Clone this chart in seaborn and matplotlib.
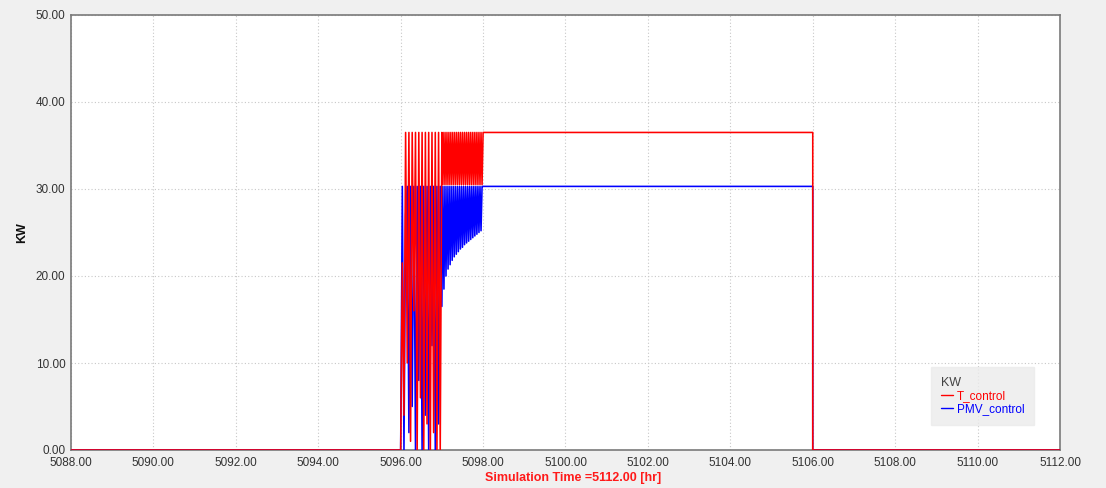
import matplotlib
matplotlib.use("Agg")
import matplotlib.pyplot as plt
from matplotlib.ticker import MultipleLocator, FormatStrFormatter
from matplotlib.lines import Line2D
import seaborn as sns
import pandas as pd

# ---- data -------------------------------------------------------------
# switching phase (first hour after start-up), shared time grid [hr]
t_switch = [5096.00, 5096.04, 5096.08, 5096.12, 5096.16, 5096.20, 5096.24,
            5096.28, 5096.32, 5096.36, 5096.40, 5096.44, 5096.48, 5096.52,
            5096.56, 5096.60, 5096.64, 5096.68, 5096.72, 5096.76, 5096.80,
            5096.84, 5096.88, 5096.92, 5096.96]
t_control_switch = [0.0, 21.5, 4.0, 36.5, 10.0, 36.5, 1.0, 36.5, 16.0, 36.5,
                    0.0, 36.5, 6.0, 36.5, 0.0, 36.5, 3.0, 36.5, 0.0, 36.5,
                    2.0, 36.5, 0.0, 36.5, 0.0]
pmv_control_switch = [0.0, 30.3, 0.0, 27.0, 30.3, 2.0, 30.3, 5.0, 30.3, 0.0,
                      30.3, 8.0, 30.3, 0.0, 30.3, 4.0, 30.3, 0.0, 30.3, 12.0,
                      30.3, 0.0, 30.3, 3.0, 30.3]

# modulating phase (second hour), shared time grid [hr]
t_modulate = [5097.000, 5097.025, 5097.050, 5097.075, 5097.100, 5097.125,
              5097.150, 5097.175, 5097.200, 5097.225, 5097.250, 5097.275,
              5097.300, 5097.325, 5097.350, 5097.375, 5097.400, 5097.425,
              5097.450, 5097.475, 5097.500, 5097.525, 5097.550, 5097.575,
              5097.600, 5097.625, 5097.650, 5097.675, 5097.700, 5097.725,
              5097.750, 5097.775, 5097.800, 5097.825, 5097.850, 5097.875,
              5097.900, 5097.925, 5097.950, 5097.975, 5098.000]
t_control_modulate = [36.5, 30.5, 36.5, 30.5, 36.5, 30.5, 36.5, 30.5, 36.5,
                      30.5, 36.5, 30.5, 36.5, 30.5, 36.5, 30.5, 36.5, 30.5,
                      36.5, 30.5, 36.5, 30.5, 36.5, 30.5, 36.5, 30.5, 36.5,
                      30.5, 36.5, 30.5, 36.5, 30.5, 36.5, 30.5, 36.5, 30.5,
                      36.5, 30.5, 36.5, 30.5, 36.5]
pmv_control_modulate = [16.5, 30.3, 18.5, 30.3, 20.0, 30.3, 20.8, 30.3, 21.3,
                        30.3, 21.8, 30.3, 22.2, 30.3, 22.5, 30.3, 22.8, 30.3,
                        23.1, 30.3, 23.3, 30.3, 23.6, 30.3, 23.8, 30.3, 24.0,
                        30.3, 24.2, 30.3, 24.4, 30.3, 24.6, 30.3, 24.8, 30.3,
                        25.0, 30.3, 25.2, 30.3, 30.3]

# steady operation and shutdown
t_tail = [5106.0, 5106.0, 5112.0]
t_control_tail = [36.5, 0.0, 0.0]
pmv_control_tail = [30.3, 0.0, 0.0]

t_start = [5088.0]
start_value = [0.0]

series_names = ["T_control", "PMV_control"]
series_colors = ["#ff0000", "#0000ff"]

# ---- tidy frames -------------------------------------------------------
time_all = t_start + t_switch + t_modulate + t_tail
df_t = pd.DataFrame({"time": time_all,
                     "kw": start_value + t_control_switch + t_control_modulate + t_control_tail})
df_p = pd.DataFrame({"time": time_all,
                     "kw": start_value + pmv_control_switch + pmv_control_modulate + pmv_control_tail})

# ---- figure ------------------------------------------------------------
sns.set_theme(style="white")
plt.rcParams["font.family"] = ["Liberation Sans", "DejaVu Sans"]

fig = plt.figure(figsize=(11.06, 4.88), dpi=100, facecolor="#f0f0f0")
ax = fig.add_axes([71 / 1106, 1 - 450 / 488, (1060 - 71) / 1106, (450 - 15) / 488])
ax.set_facecolor("white")

sns.lineplot(data=df_p, x="time", y="kw", sort=False, estimator=None,
             color=series_colors[1], linewidth=1.15, ax=ax, zorder=3)
sns.lineplot(data=df_t, x="time", y="kw", sort=False, estimator=None,
             color=series_colors[0], linewidth=1.15, ax=ax, zorder=4)

ax.set_xlim(5088, 5112)
ax.set_ylim(0, 50)
ax.xaxis.set_major_locator(MultipleLocator(2))
ax.xaxis.set_minor_locator(MultipleLocator(0.5))
ax.yaxis.set_major_locator(MultipleLocator(10))
ax.yaxis.set_minor_locator(MultipleLocator(2.5))
ax.xaxis.set_major_formatter(FormatStrFormatter("%.2f"))
ax.yaxis.set_major_formatter(FormatStrFormatter("%.2f"))

ax.grid(True, which="major", linestyle=(0, (1, 2)), color="#c8c8c8", linewidth=0.8)
ax.tick_params(axis="both", which="both", direction="in", colors="#707070",
               labelcolor="#333333", labelsize=8.5)
ax.tick_params(axis="both", which="major", length=4, width=0.8)
ax.tick_params(axis="both", which="minor", length=3, width=0.8)
ax.tick_params(axis="x", pad=5)
ax.tick_params(axis="y", pad=4)

for side in ["left", "bottom", "top", "right"]:
    ax.spines[side].set_visible(True)
    ax.spines[side].set_color("#7a7a7a")
    ax.spines[side].set_linewidth(1.2)

ax.set_xlabel("Simulation Time =5112.00 [hr]", color="#ff1a1a",
              fontweight="bold", fontsize=9)
ax.xaxis.set_label_coords((573 - 71) / 989, -22 / 435)
ax.set_ylabel("KW", color="#111111", fontweight="bold", fontsize=9)
ax.yaxis.set_label_coords(-(71 - 28) / 989, 0.5)

handles = [Line2D([], [], color=c, linewidth=1.0) for c in series_colors]
leg = ax.legend(handles, series_names, title="KW", loc="lower right",
                bbox_to_anchor=(0.98, 0.045), frameon=True, fontsize=8.5,
                title_fontsize=9, handlelength=1.0, handletextpad=0.4,
                labelspacing=0.1, borderpad=0.8, fancybox=False)
leg.get_frame().set_facecolor("#ebebeb")
leg.get_frame().set_edgecolor("#ebebeb")
leg._legend_box.align = "left"
leg.get_title().set_color("#444444")
for txt, c in zip(leg.get_texts(), series_colors):
    txt.set_color(c)

fig.savefig("out.png", dpi=100, facecolor=fig.get_facecolor())
